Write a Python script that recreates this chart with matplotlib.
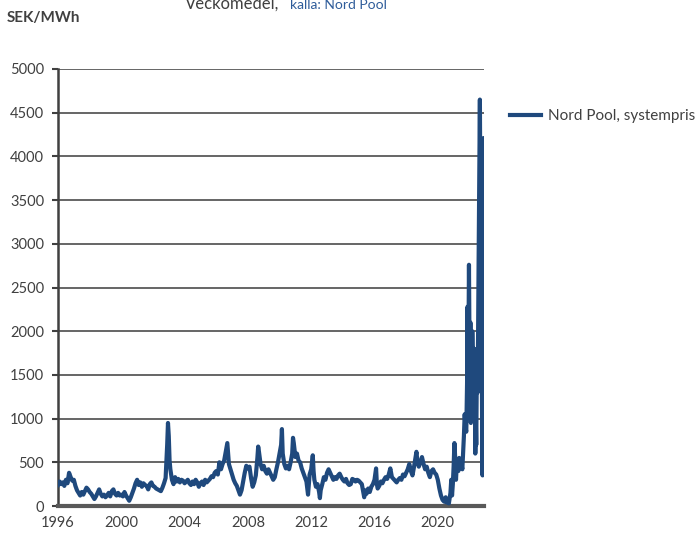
import matplotlib
matplotlib.use("Agg")
import matplotlib.pyplot as plt

# Weekly average system price (SEK/MWh)
dates = [
    1996.0, 1996.1, 1996.2, 1996.3, 1996.4, 1996.5, 1996.6, 1996.7, 1996.8, 1996.9,
    1997.0, 1997.1, 1997.2, 1997.3, 1997.4, 1997.5, 1997.6, 1997.7, 1997.8, 1997.9,
    1998.0, 1998.1, 1998.2, 1998.3, 1998.4, 1998.5, 1998.6, 1998.7, 1998.8, 1998.9,
    1999.0, 1999.1, 1999.2, 1999.3, 1999.4, 1999.5, 1999.6, 1999.7, 1999.8, 1999.9,
    2000.0, 2000.1, 2000.2, 2000.3, 2000.4, 2000.5, 2000.6, 2000.7, 2000.8, 2000.9,
    2001.0, 2001.1, 2001.2, 2001.3, 2001.4, 2001.5, 2001.6, 2001.7, 2001.8, 2001.9,
    2002.0, 2002.1, 2002.2, 2002.3, 2002.4, 2002.5, 2002.6, 2002.7, 2002.8, 2002.85,
    2002.9, 2002.95, 2003.0, 2003.05, 2003.1, 2003.2, 2003.3, 2003.4, 2003.5, 2003.6,
    2003.7, 2003.8, 2003.9, 2004.0, 2004.1, 2004.2, 2004.3, 2004.4, 2004.5, 2004.6,
    2004.7, 2004.8, 2004.9, 2005.0, 2005.1, 2005.2, 2005.3, 2005.4, 2005.5, 2005.6,
    2005.7, 2005.8, 2005.9, 2006.0, 2006.1, 2006.2, 2006.3, 2006.4, 2006.5, 2006.6,
    2006.7, 2006.75, 2006.8, 2006.9, 2007.0, 2007.1, 2007.2, 2007.3, 2007.4, 2007.5,
    2007.6, 2007.7, 2007.8, 2007.9, 2008.0, 2008.1, 2008.2, 2008.3, 2008.4, 2008.5,
    2008.6, 2008.65, 2008.7, 2008.8, 2008.9, 2009.0, 2009.1, 2009.2, 2009.3, 2009.4,
    2009.5, 2009.6, 2009.7, 2009.8, 2009.9, 2010.0, 2010.1, 2010.15, 2010.2, 2010.3,
    2010.4, 2010.5, 2010.6, 2010.7, 2010.8, 2010.85, 2010.9, 2011.0, 2011.1, 2011.2,
    2011.3, 2011.4, 2011.5, 2011.6, 2011.7, 2011.8, 2011.85, 2011.9, 2012.0, 2012.1,
    2012.15, 2012.2, 2012.3, 2012.4, 2012.5, 2012.55, 2012.6, 2012.7, 2012.8, 2012.9,
    2013.0, 2013.1, 2013.2, 2013.3, 2013.4, 2013.5, 2013.6, 2013.7, 2013.8, 2013.9,
    2014.0, 2014.1, 2014.2, 2014.3, 2014.4, 2014.5, 2014.6, 2014.7, 2014.8, 2014.9,
    2015.0, 2015.1, 2015.2, 2015.3, 2015.35, 2015.4, 2015.5, 2015.6, 2015.7, 2015.8,
    2015.9, 2016.0, 2016.1, 2016.15, 2016.2, 2016.3, 2016.4, 2016.5, 2016.6, 2016.7,
    2016.8, 2016.9, 2017.0, 2017.1, 2017.2, 2017.3, 2017.4, 2017.5, 2017.6, 2017.7,
    2017.8, 2017.9, 2018.0, 2018.1, 2018.2, 2018.3, 2018.4, 2018.5, 2018.6, 2018.65,
    2018.7, 2018.8, 2018.9, 2019.0, 2019.1, 2019.2, 2019.3, 2019.4, 2019.5, 2019.6,
    2019.7, 2019.8, 2019.9, 2020.0, 2020.1, 2020.2, 2020.3, 2020.4, 2020.5, 2020.55,
    2020.6, 2020.7, 2020.8, 2020.85, 2020.9, 2020.95, 2021.0, 2021.05, 2021.1, 2021.15,
    2021.2, 2021.3, 2021.35, 2021.4, 2021.5, 2021.55, 2021.6, 2021.65, 2021.7, 2021.75,
    2021.8, 2021.85, 2021.88, 2021.9, 2021.93, 2021.97, 2022.0, 2022.03, 2022.06, 2022.09,
    2022.12, 2022.15, 2022.18, 2022.21, 2022.25, 2022.28, 2022.31, 2022.34, 2022.37, 2022.40,
    2022.43, 2022.46, 2022.49, 2022.52, 2022.55, 2022.58, 2022.62, 2022.66, 2022.69, 2022.72,
    2022.75, 2022.78, 2022.81, 2022.83, 2022.85, 2022.87, 2022.89, 2022.91, 2022.93, 2022.95,
]
prices = [
    240, 280, 250, 270, 230, 300, 260, 380, 330, 290,
    300, 230, 180, 150, 120, 160, 130, 170, 210, 190,
    160, 140, 110, 80, 110, 150, 190, 140, 110, 130,
    100, 120, 150, 110, 170, 190, 140, 120, 150, 120,
    130, 110, 160, 120, 90, 60, 100, 150, 200, 260,
    300, 240, 270, 220, 260, 240, 230, 190, 250, 270,
    230, 220, 200, 190, 180, 170, 210, 260, 320, 500,
    700, 950, 800, 520, 420, 300, 250, 330, 280, 310,
    270, 300, 290, 260, 280, 300, 260, 240, 280, 250,
    300, 270, 220, 260, 280, 240, 300, 270, 290, 310,
    340, 330, 380, 400, 360, 500, 420, 480, 520, 620,
    720, 600, 480, 420, 360, 300, 260, 230, 180, 130,
    180, 280, 380, 460, 430, 450, 320, 220, 270, 350,
    550, 680, 620, 480, 420, 460, 400, 370, 420, 380,
    340, 300, 330, 420, 500, 600, 700, 880, 600, 480,
    430, 460, 420, 500, 600, 780, 720, 560, 600, 520,
    500, 430, 380, 330, 280, 130, 240, 360, 420, 580,
    400, 300, 220, 250, 160, 90, 180, 250, 330, 300,
    380, 420, 380, 340, 300, 330, 310, 350, 370, 330,
    300, 280, 310, 260, 240, 250, 310, 300, 280, 300,
    290, 270, 250, 150, 100, 180, 140, 200, 160, 220,
    250, 300, 430, 250, 200, 230, 280, 260, 300, 330,
    310, 360, 430, 330, 310, 290, 270, 300, 320, 300,
    360, 340, 380, 420, 480, 400, 350, 450, 560, 620,
    530, 450, 500, 560, 480, 420, 450, 380, 330, 400,
    420, 380, 360, 300, 200, 120, 70, 50, 100, 40,
    60, 30, 150, 300, 120, 250, 450, 720, 550, 300,
    480, 400, 550, 450, 480, 420, 600, 800, 1050, 900,
    850, 1400, 2280, 1200, 1600, 2760, 2000, 1100, 2100, 950,
    1800, 1400, 2000, 1700, 1300, 1800, 1000, 1500, 600, 1000,
    700, 1400, 1800, 1300, 2000, 2800, 3800, 4650, 3500, 4000,
    2500, 1500, 700, 350, 900, 2500, 4210, 3000, 1500, 800,
]

year_ticks = [1996, 2000, 2004, 2008, 2012, 2016, 2020]
price_ticks = [0, 500, 1000, 1500, 2000, 2500, 3000, 3500, 4000, 4500, 5000]

plt.rcParams['font.family'] = ['Lato', 'DejaVu Sans']

fig = plt.figure(figsize=(6.95, 5.37), dpi=100)
ax = fig.add_axes([58 / 695, 31 / 537, 426 / 695, 437 / 537])

ax.plot(dates, prices, color='#1F497D', linewidth=3.0, solid_joinstyle='round',
        label='Nord Pool, systempris', zorder=3)

ax.set_xlim(1996, 2022.92)
ax.set_ylim(0, 5000)
ax.set_xticks(year_ticks)
ax.set_yticks(price_ticks)
ax.yaxis.grid(True, color='#595959', linewidth=1.3)
ax.set_axisbelow(True)

for side in ['top', 'right']:
    ax.spines[side].set_visible(False)
ax.spines['left'].set_color('#404040')
ax.spines['left'].set_linewidth(1.8)
ax.spines['bottom'].set_color('#595959')
ax.spines['bottom'].set_linewidth(3)

ax.tick_params(axis='y', direction='out', length=4, width=1.5, color='#404040',
               pad=6, labelsize=10.5, labelcolor='#404040')
ax.tick_params(axis='x', length=0, pad=7, labelsize=10.5, labelcolor='#404040')

# Texts above the plot
fig.text(7 / 695, 1 - 22 / 537, 'SEK/MWh', fontsize=11, fontweight='bold',
         color='#404040', ha='left', va='baseline')
fig.text(185 / 695, 1 - 9 / 537, 'Veckomedel,', fontsize=12, color='#404040',
         ha='left', va='baseline')
fig.text(290 / 695, 1 - 9 / 537, 'källa: Nord Pool', fontsize=10, color='#2E5C9A',
         ha='left', va='baseline')

ax.legend(loc='upper left', bbox_to_anchor=(1.061, 0.908), frameon=False,
          borderpad=0, borderaxespad=0, handlelength=2.0, handletextpad=0.5,
          fontsize=11, labelcolor='#404040')

fig.savefig('out.png', dpi=100)
